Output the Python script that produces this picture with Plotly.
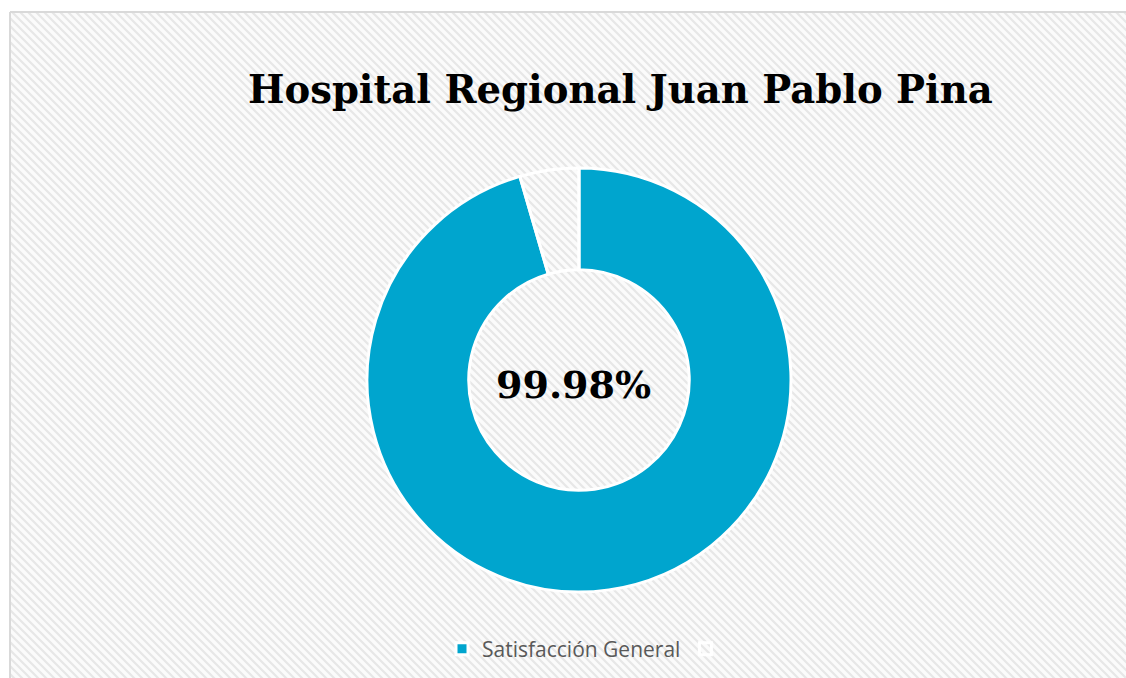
import base64
import plotly.graph_objects as go

# Data
labels = ["Satisfacción General", " "]
values = [95.5, 4.5]
slice_colors = ["#00A5CE", "rgba(0,0,0,0)"]
title_text = "Hospital Regional Juan Pablo Pina"
center_label = "99.98%"

W, H = 1126, 678


def px(x):
    return x / W


def py(y):
    return 1 - y / H


svg = f'''<svg xmlns="http://www.w3.org/2000/svg" width="{W}" height="{H}" viewBox="0 0 {W} {H}">
<defs><pattern id="p" width="8" height="8" patternUnits="userSpaceOnUse">
<rect width="8" height="8" fill="#fbfbfb"/>
<path d="M0,0 L8,8 M-4,4 L4,12 M4,-4 L12,4" stroke="#e7e7e7" stroke-width="2.2"/>
</pattern></defs>
<rect width="{W}" height="{H}" fill="#ffffff"/>
<rect x="10" y="12" width="{W}" height="{H}" fill="url(#p)"/>
</svg>'''
src = "data:image/svg+xml;base64," + base64.b64encode(svg.encode()).decode()

fig = go.Figure(go.Pie(
    labels=labels,
    values=values,
    hole=0.52,
    sort=False,
    direction="clockwise",
    rotation=0,
    textinfo="none",
    marker=dict(colors=slice_colors, line=dict(color="#ffffff", width=3)),
    domain=dict(x=[px(367), px(791)], y=[py(592), py(168)]),
    showlegend=True,
))

fig.update_layout(
    width=W, height=H,
    margin=dict(l=0, r=0, t=0, b=0, autoexpand=False),
    paper_bgcolor="#ffffff",
    images=[dict(source=src, xref="paper", yref="paper", x=0, y=1,
                 sizex=1, sizey=1, sizing="stretch", xanchor="left",
                 yanchor="top", layer="below")],
    shapes=[dict(type="line", xref="paper", yref="paper",
                 x0=px(10), x1=1, y0=py(12), y1=py(12),
                 line=dict(color="#d9d9d9", width=2), layer="below"),
            dict(type="line", xref="paper", yref="paper",
                 x0=px(10), x1=px(10), y0=0, y1=py(12),
                 line=dict(color="#d9d9d9", width=2), layer="below")],
    legend=dict(orientation="h", x=px(589), xanchor="center", y=py(649),
                yanchor="middle", font=dict(family="Open Sans", size=21, color="#595959"),
                bgcolor="rgba(0,0,0,0)", itemwidth=30),
    annotations=[
        dict(text=f"<b>{title_text}</b>", x=px(620), y=py(90), xref="paper",
             yref="paper", showarrow=False, xanchor="center", yanchor="middle",
             font=dict(family="DejaVu Serif", size=38.6, color="#000000")),
        dict(text=f"<b>{center_label}</b>", x=px(573), y=py(385), xref="paper",
             yref="paper", showarrow=False, xanchor="center", yanchor="middle",
             font=dict(family="DejaVu Serif", size=38, color="#000000")),
    ],
)

fig.write_html(
    "out.html",
    config={"displayModeBar": False},
    post_script="document.body.style.margin='0';document.body.style.overflow='hidden';",
)
